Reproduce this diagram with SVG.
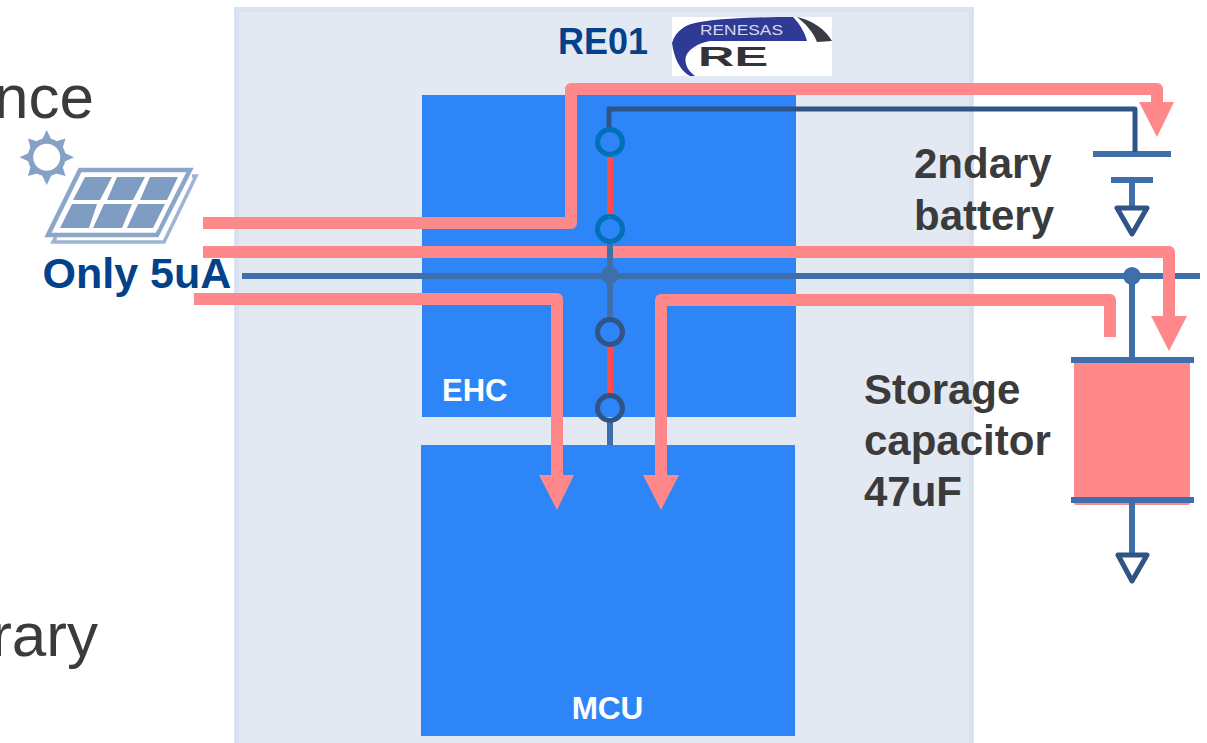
<svg xmlns="http://www.w3.org/2000/svg" width="1207" height="743" viewBox="0 0 1207 743">
<defs>
<style>
.t{font-family:"Liberation Sans",Arial,sans-serif}
.b{font-weight:700}
.dk{fill:#3b3b3b}
.nv{fill:#03428a}
.wt{fill:#fff}
.pink{fill:none;stroke:#ff888b;stroke-width:12;stroke-linejoin:round}
.head{fill:#ff888b}
.bl{fill:none;stroke:#3f6fab;stroke-width:6}
.wire{fill:none;stroke:#2f5485;stroke-width:5;stroke-linejoin:round}
.sw{fill:none;stroke:#ff4b4b;stroke-width:6}
.plate{fill:#3f6fab}
.gnd{fill:none;stroke:#2f5485;stroke-width:5;stroke-linejoin:round}
.cell{fill:#7f9cc2}
.sun{fill:#85a2c6}
</style>
</defs>
<rect width="1207" height="743" fill="#fff"/>
<g id="re01-panel">
<rect x="236.500" y="9.500" width="735" height="740" fill="#e3e9f3" stroke="#d9e2f0" stroke-width="5"/>
<text class="t b nv" x="558" y="54" font-size="36">RE01</text>
</g>
<text class="t dk" x="94" y="118" font-size="62" text-anchor="end">nce</text>
<text class="t dk" x="98" y="656" font-size="62" text-anchor="end">rary</text>
<g id="renesas-logo">
<rect x="672" y="17" width="160" height="59" fill="#fff"/>
<path d="M672 43C676 30 686 24 700 22C725 18 765 17 793 17C800 24 805 33 807 41L710 41C698 43 689 49 686 56C684 64 688 71 695 76L690 76C680 71 674 58 672 43Z" fill="#2f3a96"/>
<path d="M797 17C812 20 826 30 832 41L817 42C813 32 806 24 797 17Z" fill="#3a3a44"/>
<text class="t" x="700" y="35" font-size="15" fill="#d4d8ee" textLength="83" lengthAdjust="spacingAndGlyphs">RENESAS</text>
<text class="t b" x="698" y="66" font-size="27" fill="#333" textLength="70" lengthAdjust="spacingAndGlyphs">RE</text>
</g>
<g id="solar-panel">
<circle class="sun" cx="46.700" cy="157.300" r="19"/>
<polygon class="sun" points="46.700,130 52,141 41.400,141"/>
<polygon class="sun" points="46.700,185 52,174 41.400,174"/>
<polygon class="sun" points="19.500,157.300 31,152 31,162.600"/>
<polygon class="sun" points="74,157.300 62.500,152 62.500,162.600"/>
<polygon class="sun" points="28,138.500 39,142 31,150"/>
<polygon class="sun" points="65.500,138.500 62,150 54,142"/>
<polygon class="sun" points="28,176 31,165 39,173"/>
<polygon class="sun" points="65.500,176 54,173 62,165"/>
<circle cx="46.700" cy="157.300" r="13.500" fill="#fff"/>
<polyline points="192,176 196,176 164,242 53,242 56,237" fill="none" stroke="#9db4d2" stroke-width="3.500"/>
<polygon points="80,170 190,170 157,235 48,235" fill="#fff" stroke="#8ba6c9" stroke-width="4.500"/>
<polygon points="85,174.500 183,174.500 157,230 60,230" fill="none" stroke="#fff" stroke-width="1"/>
<polygon class="cell" points="85,177 112,177 100,200 73,200"/>
<polygon class="cell" points="117,177 145,177 133,200 107,200"/>
<polygon class="cell" points="150,177 178,177 167,200 140,200"/>
<polygon class="cell" points="72,204 97,204 89,228 60,228"/>
<polygon class="cell" points="104,204 132,204 122,228 93,228"/>
<polygon class="cell" points="138,204 165,204 153,228 127,228"/>
<text class="t b nv" x="42.500" y="288" font-size="43">Only 5uA</text>
</g>
<g id="ehc">
<rect x="422" y="95" width="374" height="322" fill="#2e85f8"/>
<text class="t b wt" x="442" y="401" font-size="31">EHC</text>
</g>
<g id="mcu">
<rect x="421" y="445" width="374" height="291" fill="#2e85f8"/>
<text class="t b wt" x="607.500" y="719" font-size="31.500" text-anchor="middle">MCU</text>
</g>
<g id="battery">
<rect class="plate" x="1093" y="151" width="78" height="6"/>
<rect class="plate" x="1111" y="177" width="42" height="6"/>
<path class="bl" d="M1132 183V208"/>
<polygon class="gnd" points="1117,208 1147,208 1132,234"/>
<text class="t b dk" x="914" y="178" font-size="42">2ndary</text>
<text class="t b dk" x="914" y="230" font-size="42">battery</text>
</g>
<g id="capacitor">
<rect x="1074" y="361" width="116" height="144" rx="2" fill="#ff888b"/>
<rect class="plate" x="1071" y="357" width="123" height="6"/>
<rect class="plate" x="1071" y="497" width="123" height="6"/>
<path class="bl" d="M1132 503V555"/>
<polygon class="gnd" points="1118,555 1147,555 1132,581"/>
<text class="t b dk" x="864" y="404" font-size="42">Storage</text>
<text class="t b dk" x="864" y="455" font-size="42">capacitor</text>
<text class="t b dk" x="864" y="506" font-size="42">47uF</text>
</g>
<g id="connectors">
<path class="bl" d="M242 276H1200"/>
<path class="bl" d="M1132 276V358"/>
<circle cx="1132" cy="276" r="9" fill="#3f6fab"/>
<path class="pink" d="M203 223H571V89H1157V104"/>
<polygon class="head" points="1139,102 1174,102 1157,137"/>
<path class="pink" d="M203 252H1169V318"/>
<polygon class="head" points="1151,316 1187,316 1169,351"/>
<path class="pink" d="M194 299H557V477"/>
<polygon class="head" points="539,475 574,475 557,510"/>
<path class="pink" d="M1110 337V300H661V477"/>
<polygon class="head" points="643,475 679,475 661,510"/>
<path class="wire" d="M609 130V109H1135V152"/>
<path class="bl" d="M610 243V317M610 421V445"/>
<circle cx="610" cy="275" r="9" fill="#3f6fab"/>
<path class="sw" d="M610 157V214M610 344V396"/>
<circle cx="610" cy="142" r="12.500" fill="none" stroke="#0070b8" stroke-width="5"/>
<circle cx="610" cy="229" r="12.500" fill="none" stroke="#0070b8" stroke-width="5"/>
<circle cx="610" cy="332" r="12.500" fill="none" stroke="#2f5485" stroke-width="5"/>
<circle cx="610" cy="408" r="12.500" fill="none" stroke="#2f5485" stroke-width="5"/>
</g>
</svg>
